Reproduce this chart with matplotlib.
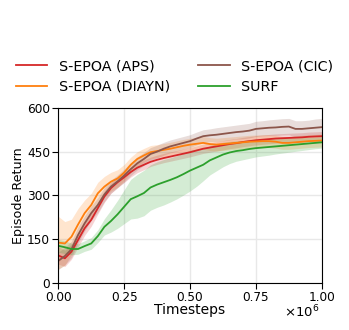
import numpy as np
import matplotlib
matplotlib.use('Agg')
import matplotlib.pyplot as plt

# timesteps in units of 1e6
steps = np.linspace(0, 1, 41)

aps = [94, 84, 107, 147, 187, 216, 256, 296, 325, 345, 362, 380, 395, 405, 415, 422, 428,
       433, 438, 443, 448, 454, 460, 464, 468, 472, 476, 479, 483, 486, 489, 491, 493, 495,
       496, 497, 498, 499, 501, 502, 503]
aps_err = [30, 28, 26, 25, 24, 22, 20, 20, 18, 18, 18, 17, 17, 17, 16, 16, 16, 16, 16, 16,
           16, 16, 16, 16, 16, 16, 16, 16, 16, 16, 16, 16, 16, 16, 16, 16, 16, 16, 16, 16, 16]

diayn = [138, 135, 158, 200, 239, 267, 307, 330, 347, 358, 378, 405, 425, 437, 448, 452, 456,
         460, 465, 470, 474, 477, 480, 476, 474, 476, 478, 480, 482, 484, 485, 486, 486, 484,
         480, 480, 482, 484, 486, 487, 488]
diayn_err = [90, 75, 60, 55, 45, 40, 38, 35, 32, 30, 28, 26, 25, 24, 23, 22, 22, 22, 22, 22,
             22, 22, 22, 22, 22, 22, 22, 22, 22, 22, 22, 22, 22, 22, 22, 22, 22, 22, 22, 22, 22]

cic = [75, 92, 115, 164, 204, 239, 267, 303, 330, 348, 368, 390, 410, 425, 442, 450, 460,
       468, 474, 480, 486, 495, 503, 506, 508, 511, 514, 517, 519, 522, 528, 530, 532, 533,
       535, 536, 528, 528, 530, 532, 534]
cic_err = [30, 30, 28, 28, 26, 25, 25, 24, 22, 22, 22, 22, 22, 22, 22, 22, 22, 22, 22, 22,
           22, 22, 22, 22, 24, 24, 24, 24, 25, 25, 26, 26, 27, 28, 28, 28, 28, 28, 28, 30, 30]

surf = [127, 122, 116, 116, 126, 135, 160, 192, 212, 235, 261, 287, 297, 308, 327, 337, 345,
        353, 362, 373, 385, 395, 405, 420, 430, 440, 447, 452, 455, 459, 462, 464, 466, 468,
        470, 472, 474, 476, 478, 480, 482]
surf_err = [22, 22, 20, 18, 18, 20, 22, 28, 38, 48, 58, 68, 75, 78, 78, 78, 78, 76, 74, 72,
            70, 64, 55, 50, 46, 42, 38, 35, 33, 32, 30, 29, 28, 26, 25, 24, 23, 22, 21, 20, 20]

series = [("S-EPOA (APS)", aps, aps_err, "tab:red"),
          ("S-EPOA (DIAYN)", diayn, diayn_err, "tab:orange"),
          ("S-EPOA (CIC)", cic, cic_err, "tab:brown"),
          ("SURF", surf, surf_err, "tab:green")]

fig = plt.figure(figsize=(3.49, 3.30), dpi=100)
ax = fig.add_axes([0.167, 0.143, 0.755, 0.530])

for name, m, e, c in series:
    m = np.array(m)
    e = np.array(e)
    ax.plot(steps, m, color=c, lw=1.3, label=name)
    ax.fill_between(steps, m - e, m + e, color=c, alpha=0.2, lw=0)

ax.set_xlim(0, 1)
ax.set_ylim(0, 600)
ax.set_yticks([0, 150, 300, 450, 600])
ax.set_xticks([0, 0.25, 0.5, 0.75, 1.0])
ax.set_xticklabels(["0.00", "0.25", "0.50", "0.75", "1.00"])
ax.grid(True, color='#e8e8e8', lw=1)
ax.set_axisbelow(True)
ax.tick_params(labelsize=8.7, pad=1.5, length=4.5)

ax.set_xlabel("Timesteps", fontsize=10)
ax.xaxis.set_label_coords(0.5, -0.115)
ax.set_ylabel("Episode Return", fontsize=9.2)
ax.yaxis.set_label_coords(-0.128, 0.5)
ax.text(0.99, -0.165, r'$\times10^{6}$', transform=ax.transAxes, ha='right', va='center',
        fontsize=9.5)

handles, labels = ax.get_legend_handles_labels()
fig.legend(handles, labels, ncol=2, loc='upper center', bbox_to_anchor=(0.5, 0.86),
           frameon=False, fontsize=10.3, columnspacing=2.0, handlelength=2.2,
           handletextpad=0.8, labelspacing=0.45)

fig.savefig("out.png", dpi=100)
